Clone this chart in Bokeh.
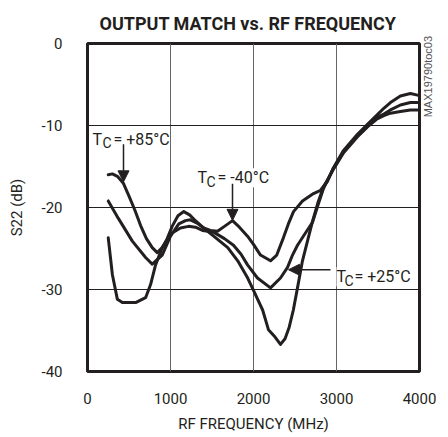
import math
from bokeh.plotting import figure
from bokeh.models import Range1d, FixedTicker, Label, Arrow, NormalHead, LinearAxis
from bokeh.embed import file_html
from bokeh.resources import INLINE

# ---------------- data ----------------
x_ticks = [0, 1000, 2000, 3000, 4000]
x_tick_labels = ["0", "1000", "2000", "3000", "4000"]
y_ticks = [-40, -30, -20, -10, 0]
y_tick_labels = ["-40", "-30", "-20", "-10", "0"]

# TC = +85C
f_85 = [250, 300, 360, 430, 500, 570, 640, 710, 780, 840, 900, 960, 1020, 1090,
        1160, 1230, 1290, 1400, 1520, 1690, 1810, 1930, 2000, 2110, 2180, 2260,
        2325, 2380, 2430, 2480, 2530, 2590, 2660, 2711, 2780, 2843, 2960, 3080,
        3250, 3370, 3490, 3570, 3650, 3770, 3890, 3976]
s_85 = [-16.0, -15.9, -16.2, -17.0, -18.6, -20.3, -22.2, -23.8, -24.9, -25.5,
        -24.9, -23.8, -22.3, -21.0, -20.5, -20.9, -21.5, -22.5, -23.5, -24.9,
        -26.5, -28.6, -30.1, -32.5, -34.9, -35.8, -36.7, -36.0, -34.6, -32.5,
        -29.8, -26.5, -23.7, -21.7, -19.3, -17.5, -15.4, -13.4, -11.4, -10.2,
        -9.2, -8.8, -8.5, -8.3, -8.1, -8.1]

# TC = -40C
f_m40 = [250, 370, 540, 700, 780, 900, 1000, 1100, 1180, 1240, 1320, 1400, 1480,
         1566, 1650, 1747, 1830, 1928, 2000, 2084, 2205, 2280, 2360, 2420, 2482,
         2590, 2723, 2807, 2892, 2960, 3080, 3250, 3370, 3490, 3570, 3650, 3770,
         3890, 3976]
s_m40 = [-19.2, -21.3, -24.1, -26.1, -26.9, -25.8, -23.5, -22.0, -21.6, -21.5,
         -21.9, -22.5, -22.8, -22.9, -22.3, -21.6, -22.4, -23.5, -24.5, -25.8,
         -26.5, -25.8, -23.7, -22.0, -20.5, -19.2, -18.3, -17.9, -16.8, -15.2,
         -13.1, -11.1, -9.9, -8.7, -7.9, -7.2, -6.4, -6.1, -6.3]

# TC = +25C
f_25 = [250, 300, 360, 420, 500, 580, 700, 760, 820, 900, 1020, 1120, 1217, 1300,
        1386, 1518, 1650, 1759, 1850, 1928, 2048, 2205, 2325, 2410, 2470, 2530,
        2620, 2711, 2780, 2843, 2960, 3080, 3250, 3370, 3490, 3570, 3650, 3770,
        3890, 3976]
s_25 = [-23.7, -28.2, -31.2, -31.6, -31.6, -31.6, -31.0, -29.4, -27.0, -24.9,
        -23.1, -22.5, -22.3, -22.4, -22.8, -23.0, -23.8, -24.6, -25.7, -27.0,
        -28.6, -29.8, -28.6, -27.3, -25.8, -24.6, -23.2, -21.8, -19.6, -17.7,
        -15.3, -13.3, -11.3, -10.1, -9.0, -8.6, -8.1, -7.5, -7.2, -7.2]

watermark = "MAX19790toc03"
watermark_pos = -9.0

FONT = "Roboto"
INK = "#231f20"

p = figure(width=446, height=435, x_range=Range1d(0, 4000), y_range=Range1d(-40, 0),
           output_backend="svg", toolbar_location=None,
           min_border_left=87, min_border_right=27, min_border_top=43,
           min_border_bottom=60, background_fill_color="white",
           border_fill_color="white")

p.title.text = "OUTPUT MATCH vs. RF FREQUENCY"
p.title.align = "left"
p.title.offset = 12
p.title.text_font = FONT
p.title.text_font_style = "bold"
p.title.text_font_size = "18px"
p.title.text_color = INK
p.title.standoff = 20

p.outline_line_color = INK
p.outline_line_width = 3
p.outline_line_alpha = 1.0

for ax in (p.xaxis[0], p.yaxis[0]):
    ax.axis_line_color = None
    ax.major_tick_line_color = None
    ax.minor_tick_line_color = None
    ax.major_label_text_font = FONT
    ax.major_label_text_font_size = "15px"
    ax.major_label_text_color = INK
    ax.axis_label_text_font = FONT
    ax.axis_label_text_font_size = "15px"
    ax.axis_label_text_font_style = "normal"
    ax.axis_label_text_color = INK

p.xaxis.ticker = FixedTicker(ticks=x_ticks)
p.yaxis.ticker = FixedTicker(ticks=y_ticks)
p.xaxis.major_label_overrides = dict(zip(x_ticks, x_tick_labels))
p.yaxis.major_label_overrides = dict(zip(y_ticks, y_tick_labels))
p.xaxis.axis_label = "RF FREQUENCY (MHz)"
p.yaxis.axis_label = "S22 (dB)"
p.xaxis.major_label_standoff = 15
p.yaxis.major_label_standoff = 19
p.xaxis.axis_label_standoff = 8
p.yaxis.axis_label_standoff = 12

# right-hand vertical tag
wax = LinearAxis(ticker=FixedTicker(ticks=[watermark_pos]),
                 major_label_overrides={watermark_pos: watermark},
                 major_label_orientation=math.pi / 2,
                 major_label_standoff=3,
                 major_label_text_font="Liberation Sans",
                 major_label_text_font_size="11px",
                 major_label_text_color="#555555",
                 axis_line_color=None, major_tick_line_color=None,
                 minor_tick_line_color=None)
p.add_layout(wax, "right")

p.xgrid.grid_line_color = "#666666"
p.xgrid.grid_line_width = 1
p.ygrid.grid_line_color = INK
p.ygrid.grid_line_width = 1

for fx, sy in ((f_85, s_85), (f_m40, s_m40), (f_25, s_25)):
    p.line(fx, sy, line_color=INK, line_width=3, line_join="round",
           line_cap="round")

# helpers: pixel sizes -> data units (frame 332 px for 4000 MHz / 40 dB)
PX_X = 4000 / 332.0
PX_Y = 40 / 332.0


def tc_label(x, y, rest, c_dx, rest_dx):
    p.add_layout(Label(x=x, y=y, text="T", text_font=FONT, text_font_size="16px",
                       text_color=INK, background_fill_color="white",
                       text_baseline="alphabetic"))
    p.add_layout(Label(x=x, y=y, x_offset=c_dx, y_offset=-4, text="C",
                       text_font=FONT, text_font_size="14px",
                       text_color=INK, text_baseline="alphabetic"))
    p.add_layout(Label(x=x, y=y, x_offset=rest_dx, text=rest, text_font=FONT,
                       text_font_size="16px", text_color=INK,
                       background_fill_color="white", text_baseline="alphabetic"))


tc_label(5 * PX_X, -97 * PX_Y, "= +85°C", 10, 21)
tc_label(110 * PX_X, -136 * PX_Y, "= -40°C", 9, 20)
tc_label(249 * PX_X, -236 * PX_Y, "= +25°C", 8, 18)

head = dict(size=11, fill_color=INK, line_color=INK)
p.add_layout(Arrow(x_start=36 * PX_X, y_start=-102 * PX_Y, x_end=36 * PX_X,
                   y_end=-140 * PX_Y, line_width=1.5, line_color=INK,
                   end=NormalHead(**head)))
p.add_layout(Arrow(x_start=145 * PX_X, y_start=-142 * PX_Y, x_end=145 * PX_X,
                   y_end=-179 * PX_Y, line_width=1.5, line_color=INK,
                   end=NormalHead(**head)))
p.add_layout(Arrow(x_start=243 * PX_X, y_start=-229 * PX_Y, x_end=201 * PX_X,
                   y_end=-229 * PX_Y, line_width=1.5, line_color=INK,
                   end=NormalHead(**head)))

open("out.html", "w").write(file_html(p, INLINE))
